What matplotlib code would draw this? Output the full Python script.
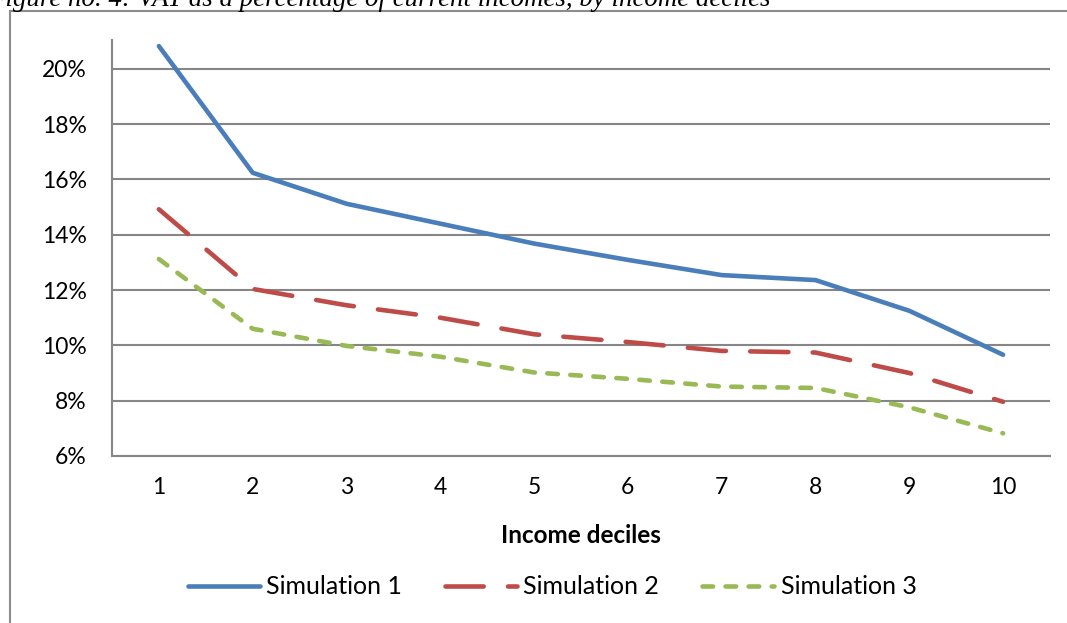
import matplotlib
matplotlib.use("Agg")
import matplotlib.pyplot as plt
from matplotlib.patches import Rectangle
from matplotlib.ticker import FuncFormatter

# ---- data ----
deciles = [1, 2, 3, 4, 5, 6, 7, 8, 9, 10]
sim1 = [20.82, 16.24, 15.12, 14.40, 13.68, 13.09, 12.54, 12.36, 11.25, 9.66]
sim2 = [14.92, 12.04, 11.45, 11.00, 10.40, 10.12, 9.80, 9.74, 9.00, 7.96]
sim3 = [13.12, 10.60, 9.98, 9.59, 9.02, 8.79, 8.51, 8.46, 7.76, 6.82]
series_names = ["Simulation 1", "Simulation 2", "Simulation 3"]
yticks = [6, 8, 10, 12, 14, 16, 18, 20]
title = "Figure no. 4: VAT as a percentage of current incomes, by income deciles"
xlabel = "Income deciles"

plt.rcParams['lines.scale_dashes'] = False
plt.rcParams['font.family'] = ['Lato', 'DejaVu Sans']

W, H = 1067, 623
fig = plt.figure(figsize=(W / 100, H / 100), dpi=100)
ax = fig.add_axes([112 / W, 1 - 456 / H, (1050 - 112) / W, (456 - 40) / H])

colors = ["#4A7EBB", "#BE4B48", "#98B954"]
lw = 3.3
l1, = ax.plot(deciles, sim1, color=colors[0], lw=lw, solid_capstyle='round',
              solid_joinstyle='round', label=series_names[0])
l2, = ax.plot(deciles, sim2, color=colors[1], lw=lw, dash_capstyle='round',
              dash_joinstyle='round', label=series_names[1])
l2.set_dashes((27.5, 17.5))
l3, = ax.plot(deciles, sim3, color=colors[2], lw=lw, dash_capstyle='round',
              dash_joinstyle='round', label=series_names[2])
l3.set_dashes((7.6, 9.0))

ax.set_xlim(0.5, 10.5)
ax.set_ylim(6, 21.04)
ax.set_yticks(yticks)
ax.yaxis.set_major_formatter(FuncFormatter(lambda v, p: f"{v:.0f}%"))
ax.set_xticks(deciles)
ax.set_xticklabels([str(d) for d in deciles])
ax.grid(axis='y', color='#868686', lw=1.5)
ax.set_axisbelow(True)
for s in ['top', 'right']:
    ax.spines[s].set_visible(False)
for s in ['left', 'bottom']:
    ax.spines[s].set_color('#868686')
    ax.spines[s].set_linewidth(1.5)
ax.tick_params(axis='both', length=0, labelsize=16.5, colors='black')
ax.tick_params(axis='y', pad=18)
ax.tick_params(axis='x', pad=15)
ax.set_xlabel(xlabel, fontsize=17.5, fontweight='bold', labelpad=19)

leg = fig.legend(handles=[l1, l2, l3], loc='center',
                 bbox_to_anchor=(552 / W, 1 - 587 / H), ncol=3,
                 frameon=False, fontsize=18, handlelength=2.9,
                 handletextpad=0.25, columnspacing=1.7, borderpad=0,
                 borderaxespad=0)

# outer chart frame
fig.patches.append(Rectangle((9.5 / W, -0.1), 1.2, 1 - 10.5 / H + 0.1,
                             transform=fig.transFigure, fill=False,
                             edgecolor='#8C8C8C', lw=1.5, clip_on=False))

fig.text(771 / W, 1 - 6.5 / H, title, ha='right', va='baseline',
         fontsize=19.4, style='italic', family='Liberation Serif')

fig.savefig("out.png", dpi=100)
